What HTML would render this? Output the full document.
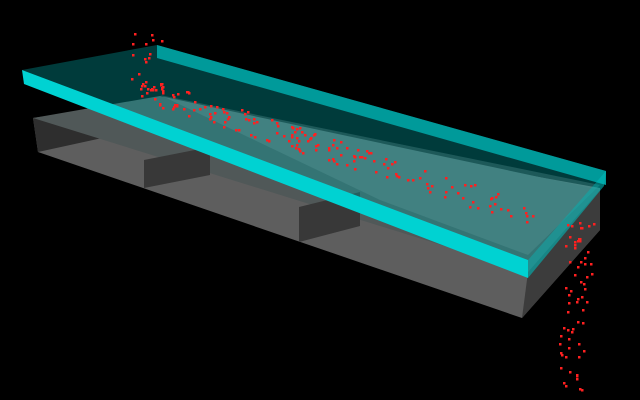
<!DOCTYPE html>
<html><head><style>html,body{margin:0;background:#000;width:640px;height:400px;overflow:hidden}</style></head>
<body>
<svg id="s" width="640" height="400" xmlns="http://www.w3.org/2000/svg">
<rect width="640" height="400" fill="#000"/>
<polygon points="33,118 130,104 600,188 600,230 522,318 38,152" fill="#5e5e5e"/>
<polygon points="33,118 130,104 130,132 38,152" fill="#2e2e2e"/>
<polygon points="33,118 160,96 600,190 528,272" fill="#505858"/>
<polygon points="144,160 210,147 210,175 144,188" fill="#383838"/>
<polygon points="299,207 360,192 360,226 299,242" fill="#383838"/>
<polygon points="528,272 600,190 600,230 522,318" fill="#3c3c3c"/>
<polygon points="22,70 157,45 606,171 528,260" fill="#00a8a8" opacity="0.35"/>
<polygon points="160,95 600,185 528,255 380,200" fill="#60a0a0" opacity="0.3"/>
<polygon points="157,45 606,171 606,185 157,58" fill="#009a9a"/>
<polygon points="528,260 606,171 604,186 528,278" fill="#00b8b8" opacity="0.6"/>
<polygon points="22,70 528,260 528,278 24,84" fill="#00d2d2"/>
<g id="p" fill="#ff2020"></g>
</svg>
<script>
var s=7;function r(){s=(s*9301+49297)%233280;return s/233280;}
var g=document.getElementById('p'),h='';
function dot(x,y){h+='<rect x="'+x.toFixed(0)+'" y="'+y.toFixed(0)+'" width="2.5" height="2.5"/>';}
for(var i=0;i<14;i++){dot(128+r()*35,30+r()*55);}
for(var i=0;i<170;i++){var t=Math.pow(r(),1.2);var x=140+t*405,y=88+t*130+(r()-0.5)*24;dot(x,y);}
for(var i=0;i<65;i++){var t=r();var x=580-t*10+(r()-0.5)*28,y=222+t*172;dot(x,y);}
g.innerHTML=h;
</script>
</body></html>
